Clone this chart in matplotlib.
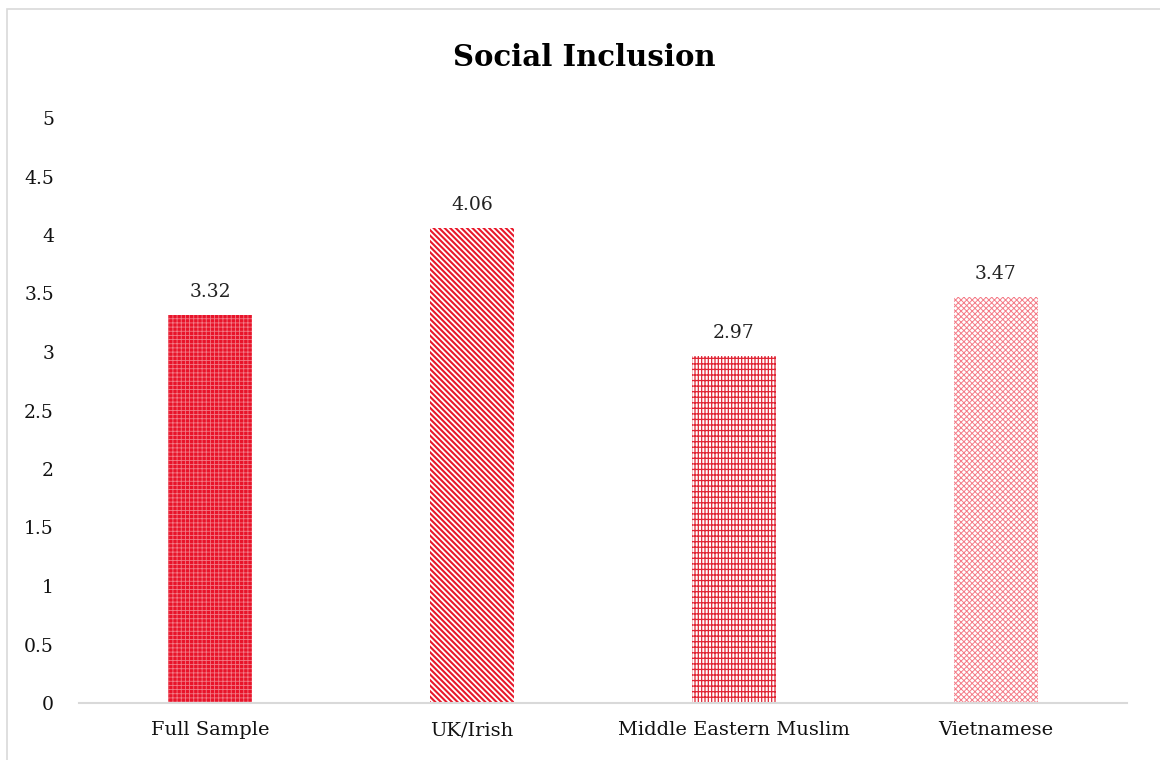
import matplotlib
matplotlib.use("Agg")
import matplotlib.pyplot as plt
from matplotlib.patches import Rectangle

categories = ["Full Sample", "UK/Irish", "Middle Eastern Muslim", "Vietnamese"]
values = [3.32, 4.06, 2.97, 3.47]
value_labels = ["3.32", "4.06", "2.97", "3.47"]
yticks = [0, 0.5, 1, 1.5, 2, 2.5, 3, 3.5, 4, 4.5, 5]
ytick_labels = ["0", "0.5", "1", "1.5", "2", "2.5", "3", "3.5", "4", "4.5", "5"]

# face colour, hatch colour, hatch pattern, hatch width for each bar
faces = ["#e8142a", "white", "white", "white"]
hatch_cols = ["#f27a86", "#e8182a", "#e02434", "#f47c88"]
hatches = ["++++", "\\" * 6, "|||||---", "x" * 6]
hatch_lws = [0.6, 1.5, 0.9, 0.7]

plt.rcParams["font.family"] = "DejaVu Serif"

fig = plt.figure(figsize=(11.6, 7.6), dpi=100)
ax = fig.add_axes([79 / 1160, 57 / 760, 1048 / 1160, 585 / 760])

x = list(range(len(categories)))
for i in x:
    with plt.rc_context({"hatch.linewidth": hatch_lws[i]}):
        bars = ax.bar(i, values[i], width=0.32, color=faces[i],
                      edgecolor=hatch_cols[i], linewidth=0, hatch=hatches[i])
        for b in bars:
            if hasattr(b, "set_hatch_linewidth"):
                b.set_hatch_linewidth(hatch_lws[i])
    ax.annotate(value_labels[i], (i, values[i]), xytext=(0, 10),
                textcoords="offset points", ha="center", va="bottom",
                fontsize=13.5, color="#222222")

ax.set_xlim(-0.5, 3.5)
ax.set_ylim(0, 5)
ax.set_xticks(x)
ax.set_xticklabels(categories, fontsize=14)
ax.set_yticks(yticks)
ax.set_yticklabels(ytick_labels, fontsize=13.5)
ax.tick_params(axis="both", length=0, colors="#111111")
ax.tick_params(axis="y", pad=18)
ax.tick_params(axis="x", pad=13)
for s in ["top", "right", "left"]:
    ax.spines[s].set_visible(False)
ax.spines["bottom"].set_color("#d9d9d9")
ax.spines["bottom"].set_linewidth(1.5)

fig.text(584 / 1160, 1 - 58 / 760, "Social Inclusion", ha="center", va="center",
         fontsize=21, fontweight="bold")

# outer chart border
fig.add_artist(Rectangle((7 / 1160, -0.1), 1.2, 1 - 9 / 760 + 0.1,
                         transform=fig.transFigure, fill=False,
                         edgecolor="#d9d9d9", linewidth=1.2))

fig.savefig("out.png", dpi=100)
